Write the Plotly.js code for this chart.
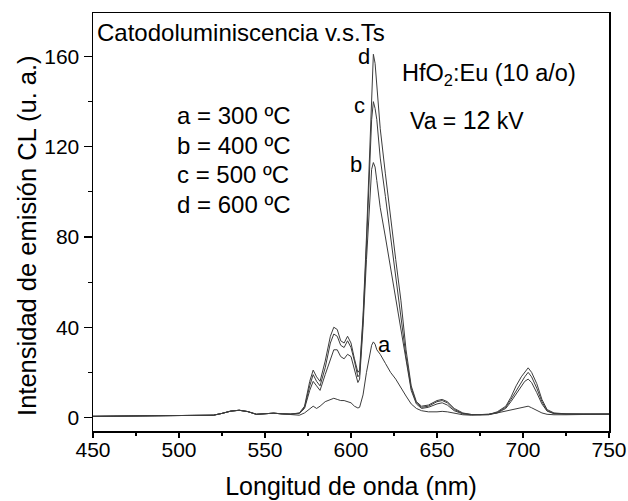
<!DOCTYPE html>
<html>
<head>
<meta charset="utf-8">
<script src="https://cdn.plot.ly/plotly-3.0.1.min.js"></script>
<style>html,body{margin:0;padding:0;background:#fff;}#chart{width:628px;height:501px;}</style>
</head>
<body>
<div id="chart"></div>
<script>
// Wavelength grid (nm)
const wavelength = [450,460,470,480,490,500,510,520,525,530,535,540,545,550,555,560,565,570,573,576,578,580,582,585,588,590,592,594,596,598,600,602,604,605,607,609,611,612,613,614,615,617,620,623,626,629,632,635,638,641,645,650,653,656,660,665,670,675,680,685,690,693,696,699,701,703,705,708,711,714,718,725,735,750];

// a = 300 ºC
const seriesA = [0.5,0.6,0.7,0.6,0.7,0.8,0.8,1.0,1.8,2.8,3.2,2.6,1.4,1.5,1.9,1.6,1.3,1.0,2,4,5,4,5,7,8,8.5,8,7.5,7.5,7,6.5,5,4.2,4.5,10,20,29,32,33.5,32.5,30,28,24,20,17,13,9.5,6,4,3,2.5,2.5,2.7,2.5,2,1.2,1,1.2,1.5,2,2.8,3.3,3.8,4.4,4.8,5,4.3,3,2,1.4,1.2,1.2,1.3,1.5];
// b = 400 ºC
const seriesB = [0.5,0.6,0.7,0.6,0.7,0.8,0.8,1.0,1.8,2.8,3.2,2.6,1.4,1.5,1.9,1.6,1.5,1.8,4,12,16,14,12,19,26,30,30,27,26,28,27,21,15.5,17,40,70,100,110,113,111,105,93,80,66,53,40,24,12,6,4,4.5,6,6.5,5.5,3,1.6,1.2,1.1,1.2,2,4,7,10.5,14,16,17,15.5,11,6,2.8,1.7,1.5,1.4,1.5];
// c = 500 ºC
const seriesC = [0.5,0.6,0.7,0.6,0.7,0.8,0.8,1.0,1.8,2.8,3.2,2.6,1.4,1.5,1.9,1.6,1.5,1.9,4.5,14,19,16,14,22,33,37,36,32,31,34,31,25,18,19,43,76,115,132,140,137,132,115,98,80,63,46,27,13,6.5,4.5,5,7,7.5,6.5,3.5,1.8,1.3,1.2,1.3,2.2,4.5,8,12,16,18,20,18,13,7,3,1.8,1.6,1.5,1.5];
// d = 600 ºC
const seriesD = [0.5,0.6,0.7,0.6,0.7,0.8,0.8,1.0,1.8,2.8,3.2,2.6,1.4,1.5,1.9,1.6,1.5,2.0,5,16,21,18,16,25,36,40,39,34,33,36,33,26,20,21,45,80,125,148,161,157,148,128,108,88,70,52,30,14,7,5,5.5,7.5,8,7,4,2,1.3,1.2,1.3,2.5,5,9,14,18,20,22,20,15,8,3.5,2,1.6,1.5,1.5];

const seriesList = [seriesA, seriesB, seriesC, seriesD];
const seriesNames = ['a = 300 ºC','b = 400 ºC','c = 500 ºC','d = 600 ºC'];

const xTickVals = [450,500,550,600,650,700,750];
const yTickVals = [0,40,80,120,160];

const FONT = 'Liberation Sans, Arial, sans-serif';

const traces = seriesList.map((s, i) => ({
  x: wavelength, y: s, type: 'scatter', mode: 'lines', name: seriesNames[i],
  line: {color: '#3c3c3c', width: 1}, showlegend: false, hoverinfo: 'skip'
}));

const ann = (text, x, y, size, xanchor) => ({
  text: text, x: x, y: y, xref: 'x', yref: 'y', showarrow: false,
  xanchor: xanchor || 'left', yanchor: 'middle',
  font: {family: FONT, size: size, color: '#000'}
});

const annotations = [
  ann('Catodoluminiscencia v.s.Ts', 451.3, 170.5, 24),
  ann('a = 300 ºC', 497.5, 134, 24),
  ann('b = 400 ºC', 497.5, 120.7, 24),
  ann('c = 500 ºC', 497.5, 107.8, 24),
  ann('d = 600 ºC', 497.5, 94.5, 24),
  ann('HfO<sub>2</sub>:Eu (10 a/o)', 628.5, 152, 23.5),
  ann('Va = <span style="font-size:25px">12</span> kV', 633, 132, 23),
  ann('d', 607.8, 160, 22, 'center'),
  ann('c', 604.9, 138.5, 22, 'center'),
  ann('b', 603, 112, 22, 'center'),
  ann('a', 619.5, 32.5, 22, 'center'),
  {
    text: 'Intensidad de emisión CL (u. a.)', xref: 'paper', yref: 'paper',
    x: -0.128, y: 0.469, xanchor: 'center', yanchor: 'middle', textangle: -90,
    showarrow: false, font: {family: FONT, size: 25.5, color: '#000'}
  }
];

const layout = {
  width: 628, height: 501,
  margin: {l: 93, r: 19, t: 13, b: 70, pad: 0},
  paper_bgcolor: '#fff', plot_bgcolor: '#fff',
  showlegend: false,
  xaxis: {
    range: [450, 750], tickvals: xTickVals, ticktext: xTickVals.map(String),
    ticks: 'outside', ticklen: 5, tickwidth: 1.3, tickcolor: '#000',
    ticklabelstandoff: -6,
    showline: true, linecolor: '#000', linewidth: 1.5, mirror: true,
    showgrid: false, zeroline: false,
    minor: {dtick: 25, ticks: 'outside', ticklen: 3, tickwidth: 1.2, tickcolor: '#000', showgrid: false},
    tickfont: {family: FONT, size: 21, color: '#000'},
    title: {text: 'Longitud de onda (nm)', font: {family: FONT, size: 25, color: '#000'}, standoff: 18}
  },
  yaxis: {
    range: [-6, 179.3], tickvals: yTickVals, ticktext: yTickVals.map(String),
    ticks: 'outside', ticklen: 8, tickwidth: 1.3, tickcolor: '#000',
    showline: true, linecolor: '#000', linewidth: 1.5, mirror: true,
    showgrid: false, zeroline: false,
    minor: {dtick: 20, ticks: 'outside', ticklen: 4, tickwidth: 1.2, tickcolor: '#000', showgrid: false},
    tickfont: {family: FONT, size: 21, color: '#000'}
  },
  annotations: annotations
};

Plotly.newPlot('chart', traces, layout, {displayModeBar: false, staticPlot: true});
</script>
</body>
</html>
